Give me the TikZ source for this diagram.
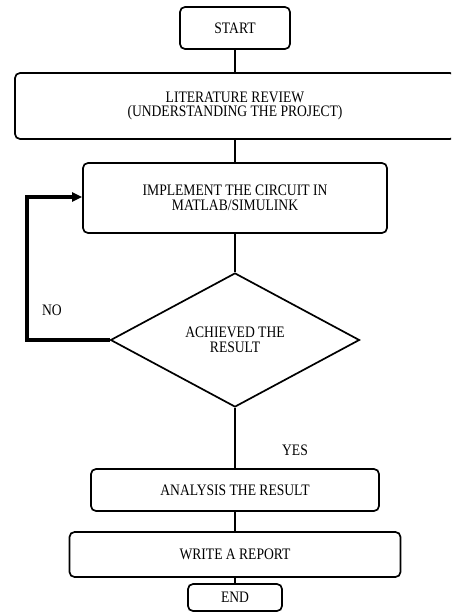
\documentclass[tikz,border=0pt]{standalone}
\usepackage{fontspec}
\setmainfont{Liberation Serif}
\newfontfamily\rfont[FakeStretch=0.85]{Liberation Serif}
\usetikzlibrary{shapes.geometric,arrows.meta}
\begin{document}
\begin{tikzpicture}[x=1pt,y=-1pt,
  box/.style={draw=black,line width=1.7pt,rounded corners=5pt,inner sep=0pt,align=center,font=\rfont\fontsize{16}{14.5}\selectfont},
  dec/.style={draw=black,line width=1.7pt,shape=diamond,inner sep=0pt,align=center,font=\rfont\fontsize{16}{14.5}\selectfont},
  conn/.style={draw=black,line width=2.2pt},
  loopline/.style={draw=black,line width=3.5pt,-{Triangle[length=10pt,width=9pt]}},
  lbl/.style={inner sep=0pt,font=\rfont\fontsize{16}{16}\selectfont}]
\useasboundingbox (0,0) rectangle (451,612);
\begin{scope}
\clip (0,0) rectangle (451,612);
\node[box,minimum width=110pt,minimum height=42pt] (start) at (235,28) {START};
\node[box,minimum width=440pt,minimum height=66pt] (lit) at (235,106) {LITERATURE REVIEW\\(UNDERSTANDING THE PROJECT)};
\node[box,minimum width=304pt,minimum height=70pt] (impl) at (235,198) {IMPLEMENT THE CIRCUIT IN\\MATLAB/SIMULINK};
\node[dec,minimum width=249pt,minimum height=134pt] (dia) at (235,340) {ACHIEVED THE\\RESULT};
\node[box,minimum width=288pt,minimum height=42pt] (ana) at (235,490) {ANALYSIS THE RESULT};
\node[box,minimum width=331pt,minimum height=45pt] (rep) at (235,554.5) {WRITE A REPORT};
\node[box,minimum width=94pt,minimum height=27pt] (end) at (235,597.5) {END};
\coordinate (c1) at (27,340);
\coordinate (c2) at (27,197);
\draw[conn] (start) -- (lit);
\draw[conn] (lit) -- (impl);
\draw[conn] (impl) -- (dia);
\draw[conn] (dia) -- (ana);
\draw[conn] (ana) -- (rep);
\draw[conn] (rep) -- (end);
\draw[loopline] (dia.west) -- (c1) -- (c2) -- (impl.west |- c2);
\node[lbl] (no) at (52,310) {NO};
\node[lbl] (yes) at (295,450) {YES};
\end{scope}
\end{tikzpicture}
\end{document}
